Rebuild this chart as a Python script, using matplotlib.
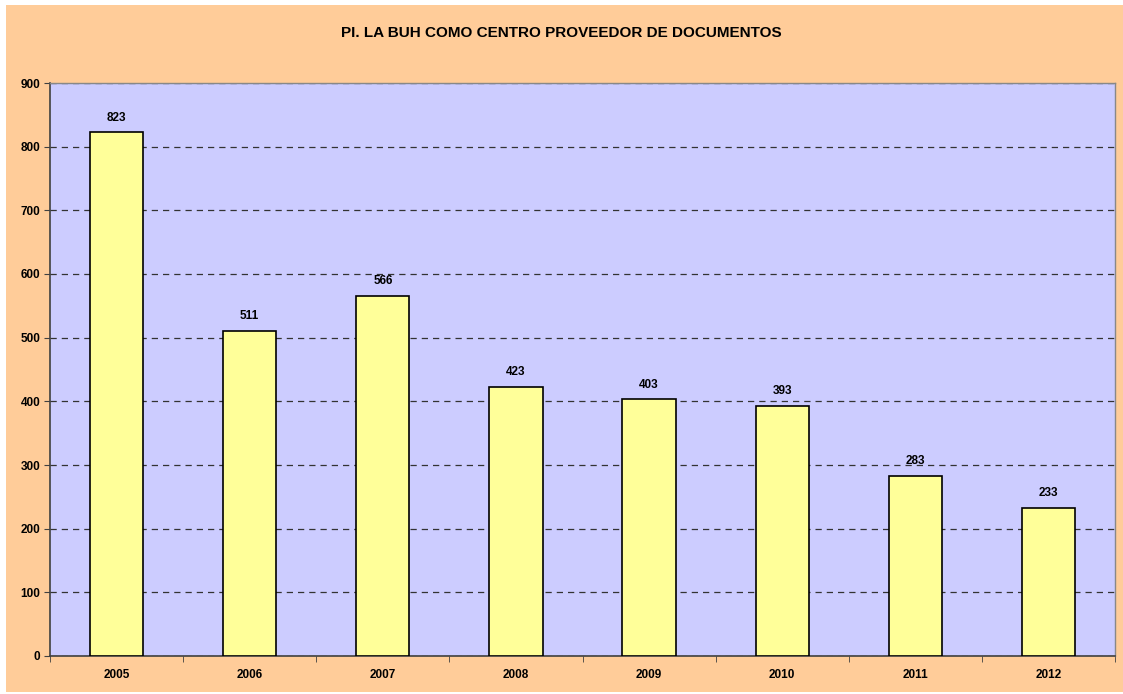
import matplotlib.pyplot as plt
from matplotlib.patches import Rectangle
from matplotlib.ticker import FixedLocator
import numpy as np

plt.rcParams['font.family'] = ['Liberation Sans', 'DejaVu Sans']

years = ['2005', '2006', '2007', '2008', '2009', '2010', '2011', '2012']
values = [823, 511, 566, 423, 403, 393, 283, 233]
title = 'PI. LA BUH COMO CENTRO PROVEEDOR DE DOCUMENTOS'

fig = plt.figure(figsize=(11.23, 6.94), dpi=100)
fig.patch.set_facecolor('white')
# peach chart area with thin white border
fig.patches.append(Rectangle((6 / 1123, 2 / 694), 1117 / 1123, 687 / 694,
                             transform=fig.transFigure, facecolor='#FFCC99',
                             edgecolor='none', zorder=-10))

ax = fig.add_axes([50 / 1123, 38 / 694, 1065 / 1123, 573 / 694])
ax.set_zorder(1)
ax.set_facecolor('#CCCCFF')

x = np.arange(len(years))
ax.bar(x, values, width=0.4, color='#FFFF99', edgecolor='black', linewidth=1.2, zorder=3)

for xi, v in zip(x, values):
    ax.annotate(str(v), (xi, v), xytext=(0, 6), textcoords='offset points',
                ha='center', va='bottom', fontsize=8.5, fontweight='bold', zorder=4)

ax.set_xlim(-0.5, len(years) - 0.5)
ax.set_ylim(0, 900)
ax.set_yticks(np.arange(0, 901, 100))
ax.set_xticks(x)
ax.set_xticklabels(years, fontsize=8.5, fontweight='bold')
ax.xaxis.set_minor_locator(FixedLocator(np.arange(-0.5, len(years), 1)))
ax.tick_params(axis='x', which='major', length=0, pad=9)
ax.tick_params(axis='x', which='minor', length=4, color='#404040', direction='out')
ax.tick_params(axis='y', length=4, color='#404040', direction='out', pad=3)
for lab in ax.get_yticklabels():
    lab.set_fontsize(8.5)
    lab.set_fontweight('bold')

ax.yaxis.grid(True, linestyle=(0, (5, 4)), color='#333333', linewidth=0.9, zorder=1)
ax.set_axisbelow(True)

for side in ['left', 'bottom']:
    ax.spines[side].set_color('#404040')
    ax.spines[side].set_linewidth(1.2)
for side in ['top', 'right']:
    ax.spines[side].set_color('#888888')
    ax.spines[side].set_linewidth(1.0)

fig.text(0.5, 1 - 33 / 694, title, ha='center', va='center', fontsize=11, fontweight='bold')

fig.savefig('out.png', dpi=100, facecolor=fig.get_facecolor())
